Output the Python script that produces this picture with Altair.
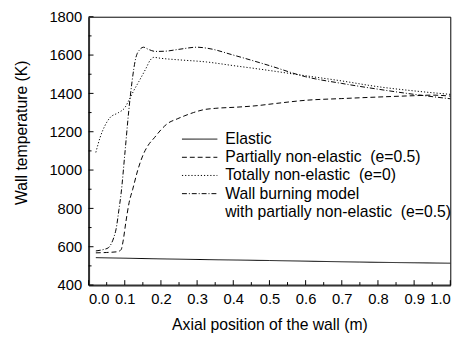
import altair as alt
import pandas as pd

# ---- data ----
elastic_x = [0.02, 0.25, 0.5, 0.75, 1.0]
elastic_y = [543, 535, 528, 520, 514]

partial_x = [0.02, 0.05, 0.08, 0.09, 0.095, 0.103, 0.112, 0.122, 0.136, 0.152, 0.165, 0.182,
             0.2, 0.217, 0.245, 0.264, 0.29, 0.318, 0.35, 0.408, 0.46, 0.52, 0.6, 0.7, 0.8,
             0.9, 0.95, 1.0]
partial_y = [568, 570, 574, 585, 625, 728, 830, 900, 1000, 1085, 1130, 1169,
             1210, 1241, 1267, 1282, 1300, 1315, 1322, 1328, 1335, 1348, 1364, 1373, 1381,
             1388, 1391, 1386]

total_x = [0.02, 0.032, 0.045, 0.059, 0.082, 0.1, 0.113, 0.125, 0.139, 0.158, 0.171, 0.18,
           0.2, 0.25, 0.326, 0.4, 0.46, 0.6, 0.7, 0.8, 0.9, 1.0]
total_y = [1092, 1171, 1231, 1273, 1299, 1325, 1370, 1415, 1462, 1528, 1575, 1588,
           1583, 1575, 1564, 1545, 1530, 1492, 1465, 1435, 1413, 1395]

burn_x = [0.02, 0.04, 0.055, 0.0625, 0.07, 0.076, 0.084, 0.09, 0.1, 0.111, 0.12, 0.13, 0.14,
          0.152, 0.165, 0.185, 0.21, 0.25, 0.3, 0.33, 0.4, 0.5, 0.6, 0.7, 0.8, 0.9, 1.0]
burn_y = [578, 585, 595, 615, 650, 692, 795, 880, 1080, 1308, 1460, 1581, 1625,
          1641, 1630, 1619, 1620, 1630, 1641, 1635, 1600, 1545, 1487, 1452, 1422, 1395, 1372]

names = [
    "Elastic",
    "Partially non-elastic\u00a0 (e=0.5)",
    "Totally non-elastic\u00a0 (e=0)",
    "Wall burning model",
    "with partially non-elastic\u00a0 (e=0.5)",
]
# last entry is the second line of the 4th legend label: drawn with an empty dash
dashes = [[1, 0], [5, 3], [1.2, 2], [5, 2, 1, 2], [0, 1000]]

y_major = [400, 600, 800, 1000, 1200, 1400, 1600, 1800]
y_minor = [500, 700, 900, 1100, 1300, 1500, 1700]
x_major = [0.0, 0.1, 0.2, 0.3, 0.4, 0.5, 0.6, 0.7, 0.8, 0.9, 1.0]
x_minor = [0.05, 0.15, 0.25, 0.35, 0.45, 0.55, 0.65, 0.75, 0.85, 0.95]

rows = []
for name, xs, ys in [(names[0], elastic_x, elastic_y), (names[1], partial_x, partial_y),
                     (names[2], total_x, total_y), (names[3], burn_x, burn_y)]:
    for i, (a, b) in enumerate(zip(xs, ys)):
        rows.append({"series": name, "x": a, "y": b, "i": i})
df = pd.DataFrame(rows)

W, H = 368, 273
FONT = "Liberation Sans"

xscale = alt.Scale(domain=[0, 1], nice=False, zero=False)
yscale = alt.Scale(domain=[400, 1800], nice=False, zero=False)
xaxis = alt.Axis(values=x_major, format=".1f", title="Axial position of the wall (m)",
                 titleY=45, titleBaseline="alphabetic")
yaxis = alt.Axis(values=y_major, format="d", title="Wall temperature (K)",
                 titleX=-63, titleY=117.5, titleBaseline="alphabetic", titleAngle=270)

lines = alt.Chart(df).mark_line(color="black", strokeWidth=1, interpolate="monotone").encode(
    x=alt.X("x:Q", scale=xscale, axis=xaxis),
    y=alt.Y("y:Q", scale=yscale, axis=yaxis),
    strokeDash=alt.StrokeDash("series:N", scale=alt.Scale(domain=names, range=dashes),
                              legend=alt.Legend(title=None, orient="none", legendX=93, legendY=116.5,
                                                symbolType="M-1,0H5", symbolSize=144,
                                                symbolStrokeWidth=1, symbolStrokeColor="black",
                                                symbolFillColor="transparent",
                                                labelFontSize=16, labelFont=FONT,
                                                labelColor="black", labelOffset=30,
                                                labelLimit=0, rowPadding=2.5, padding=0)),
    order="i:Q",
)

def tick_layer(vals, axis_ch, length):
    d = pd.DataFrame({"v": vals})
    if axis_ch == "y":
        return alt.Chart(d).mark_rule(color="black", strokeWidth=1).encode(
            y=alt.Y("v:Q", scale=yscale, axis=yaxis),
            x=alt.value(0), x2=alt.value(length))
    return alt.Chart(d).mark_rule(color="black", strokeWidth=1).encode(
        x=alt.X("v:Q", scale=xscale, axis=xaxis),
        y=alt.value(H), y2=alt.value(H - length))

chart = alt.layer(
    lines,
    tick_layer(y_major, "y", 5), tick_layer(y_minor, "y", 3),
    tick_layer(x_major, "x", 5), tick_layer(x_minor, "x", 3),
).properties(
    width=W, height=H,
    autosize=alt.AutoSizeParams(type="none"),
    padding={"left": 82, "top": 6, "right": 17, "bottom": 52},
).configure_view(
    stroke="black", strokeWidth=1
).configure_axis(
    grid=False, ticks=False, domainColor="#333", domainWidth=2,
    labelFont=FONT, labelFontSize=15, labelColor="black",
    titleFont=FONT, titleFontSize=16, titleColor="black", titleFontWeight="normal",
    labelPadding=7,
)

chart.save("out.html", embed_options={"renderer": "svg", "actions": False})
